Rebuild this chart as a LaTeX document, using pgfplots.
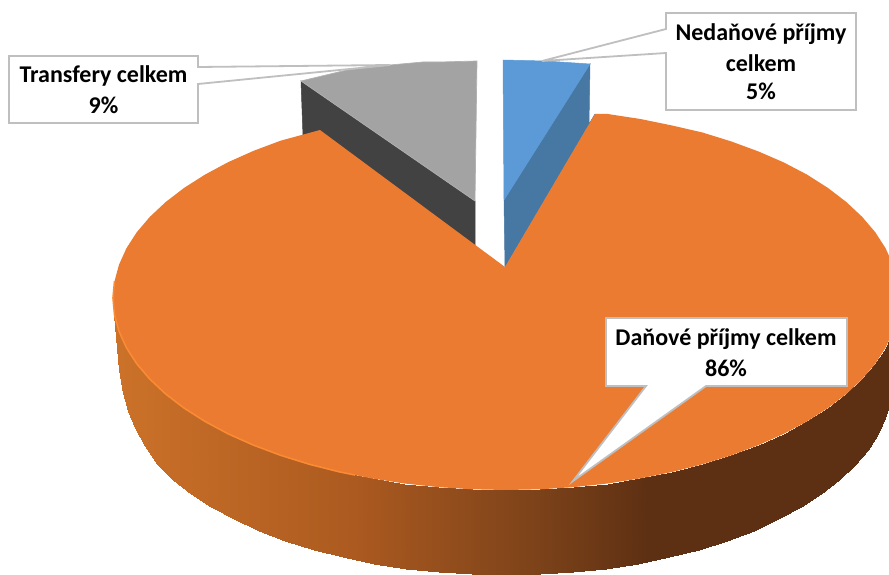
\documentclass[border=0pt]{standalone}
\usepackage{pgfplots}
\pgfplotsset{compat=1.18}
\usepackage{fontspec}
\setmainfont{Carlito}
\definecolor{orangeTop}{HTML}{EA7B30}
\definecolor{rim}{HTML}{FA8A33}
\definecolor{blueTop}{HTML}{5B9AD6}
\definecolor{blueSide}{HTML}{4777A3}
\definecolor{greyTop}{HTML}{A3A3A3}
\definecolor{greySide}{HTML}{424242}
\definecolor{callout}{HTML}{BFBFBF}
\tikzset{lbl/.style={font=\bfseries\fontsize{24}{28}\selectfont, text=black, inner sep=0pt, anchor=center}}
\begin{document}
\begin{tikzpicture}
\begin{axis}[
  scale only axis, width=889pt, height=575pt,
  xmin=0, xmax=889, ymin=0, ymax=575, y dir=reverse,
  hide axis, clip=true,
  colormap={pie}{rgb255(0)=(204,114,41); rgb255(237)=(172,90,32); rgb255(427)=(122,65,25); rgb255(527)=(94,48,19); rgb255(776)=(94,48,19)},
  point meta min=113, point meta max=899
]
% side wall of the large slice: upper row, lower row
\addplot[surf, shader=interp, mesh/rows=2, mesh/ordering=x varies, point meta=x] table[row sep=\\] {
x y\\
113 298\\ 114.5 314.7\\ 119 331.3\\ 126.4 347.7\\ 136.7 363.7\\ 149.8 379.1\\ 165.7 394\\ 184.1 408.1\\ 205 421.4\\ 228.1 433.8\\ 253.4 445.1\\ 280.6 455.3\\ 309.5 464.3\\ 339.9 472\\ 371.6 478.4\\ 404.3 483.5\\ 437.8 487.1\\ 471.7 489.3\\ 506 490\\ 540.3 489.3\\ 574.2 487.1\\ 607.7 483.5\\ 640.4 478.4\\ 672.1 472\\ 702.5 464.3\\ 731.4 455.3\\ 758.6 445.1\\ 783.9 433.8\\ 807 421.4\\ 827.9 408.1\\ 846.3 394\\ 862.2 379.1\\ 875.3 363.7\\ 885.6 347.7\\ 893 331.3\\ 897.5 314.7\\ 899 298\\
119 370\\ 123 393\\ 128 411\\ 135 428\\ 145 446\\ 157.5 464\\ 172.6 480\\ 190.6 494\\ 211.1 507.1\\ 233.8 519.4\\ 258.5 530.5\\ 285.2 540.6\\ 313.5 549.5\\ 343.3 557.2\\ 374.3 563.5\\ 406.4 568.5\\ 439.2 572.1\\ 472.4 574.3\\ 506 575\\ 539.6 574.3\\ 572.8 572.1\\ 605.6 568.5\\ 637.7 563.5\\ 668.7 557.2\\ 698.5 549.5\\ 726.8 540.6\\ 753.5 530.5\\ 778.2 519.4\\ 800.9 507.1\\ 821.4 494\\ 839.4 480\\ 854.9 465.3\\ 867.8 450\\ 877.9 434.2\\ 885.1 418\\ 889.5 401.6\\ 891 385\\
};
% grey slice
\addplot[fill=greySide, draw=greySide, line width=0.5pt] coordinates {(301,81) (475,201) (475,247) (318,132) (303,136)} --cycle;
\addplot[fill=greyTop, draw=greyTop!85!white, line width=0.7pt] coordinates {(477,61) (440,62) (423,62) (390,65) (347,70) (301,81) (475,201)} --cycle;
% blue slice
\addplot[fill=blueSide, draw=blueSide, line width=0.5pt] coordinates {(590,64) (504,200) (505,267) (595,114) (589,125)} --cycle;
\addplot[fill=blueTop, draw=blueTop, line width=0.5pt] coordinates {(503,60) (545,61) (590,64) (504,200)} --cycle;
% top of the large slice
\addplot[fill=orangeTop, draw=none] coordinates {
(505,267) (595,114) (607.7,114) (640.4,119) (672.1,125.5) (702.5,132.5) (731.4,141.5) (758.6,151.5) (783.9,162.5) (807,174.6) (827.9,187.9) (846.3,202) (862.2,216.9) (875.3,232.3) (885.6,248.3) (893,264.7) (897.5,281.3) (899,298)
(897.5,314.7) (893,331.3) (885.6,347.7) (875.3,363.7) (862.2,379.1) (846.3,394) (827.9,408.1) (807,421.4) (783.9,433.8) (758.6,445.1) (731.4,455.3) (702.5,464.3) (672.1,472) (640.4,478.4) (607.7,483.5) (574.2,487.1) (540.3,489.3) (506,490)
(471.7,489.3) (437.8,487.1) (404.3,483.5) (371.6,478.4) (339.9,472) (309.5,464.3) (280.6,455.3) (253.4,445.1) (228.1,433.8) (205,421.4) (184.1,408.1) (165.7,394) (149.8,379.1) (136.7,363.7) (126.4,347.7) (119,331.3) (114.5,314.7) (113,298)
(114.5,281.3) (119,264.7) (126.4,248.3) (136.7,232.3) (149.8,216.9) (165.7,202) (184.1,187.9) (205,174.6) (228.1,162.2) (253.4,150.9) (280.6,140.7) (320,130)} --cycle;
% light rim along the front edge
\addplot[draw=rim, line width=1.6pt] coordinates {(114.5,281.3) (113,298) (114.5,314.7) (119,331.3) (126.4,347.7) (136.7,363.7) (149.8,379.1) (165.7,394) (184.1,408.1) (205,421.4) (228.1,433.8) (253.4,445.1) (280.6,455.3) (309.5,464.3) (339.9,472) (355,475)};
% callouts
\addplot[fill=white, draw=callout, line width=1.8pt] coordinates {(9,56) (198,56) (198,67) (390,65) (198,84) (198,123) (9,123)} --cycle;
\addplot[fill=white, draw=callout, line width=1.8pt] coordinates {(666,13) (856,13) (856,110) (666,110) (666,53) (542,61) (666,29)} --cycle;
\addplot[fill=white, draw=callout, line width=1.8pt] coordinates {(606,318) (847,318) (847,386) (706,386) (573,481) (646,386) (606,386)} --cycle;
\node[lbl] at (axis cs:103.5,76) {Transfery celkem};
\node[lbl] at (axis cs:103.5,105) {9\%};
\node[lbl] at (axis cs:761,34) {Nedaňové příjmy};
\node[lbl] at (axis cs:761,63) {celkem};
\node[lbl] at (axis cs:761,91) {5\%};
\node[lbl] at (axis cs:726,339) {Daňové příjmy celkem};
\node[lbl] at (axis cs:726,368) {86\%};
\end{axis}
\pgfresetboundingbox
\path[use as bounding box] (0,0) rectangle (889pt,575pt);
\end{tikzpicture}
\end{document}
